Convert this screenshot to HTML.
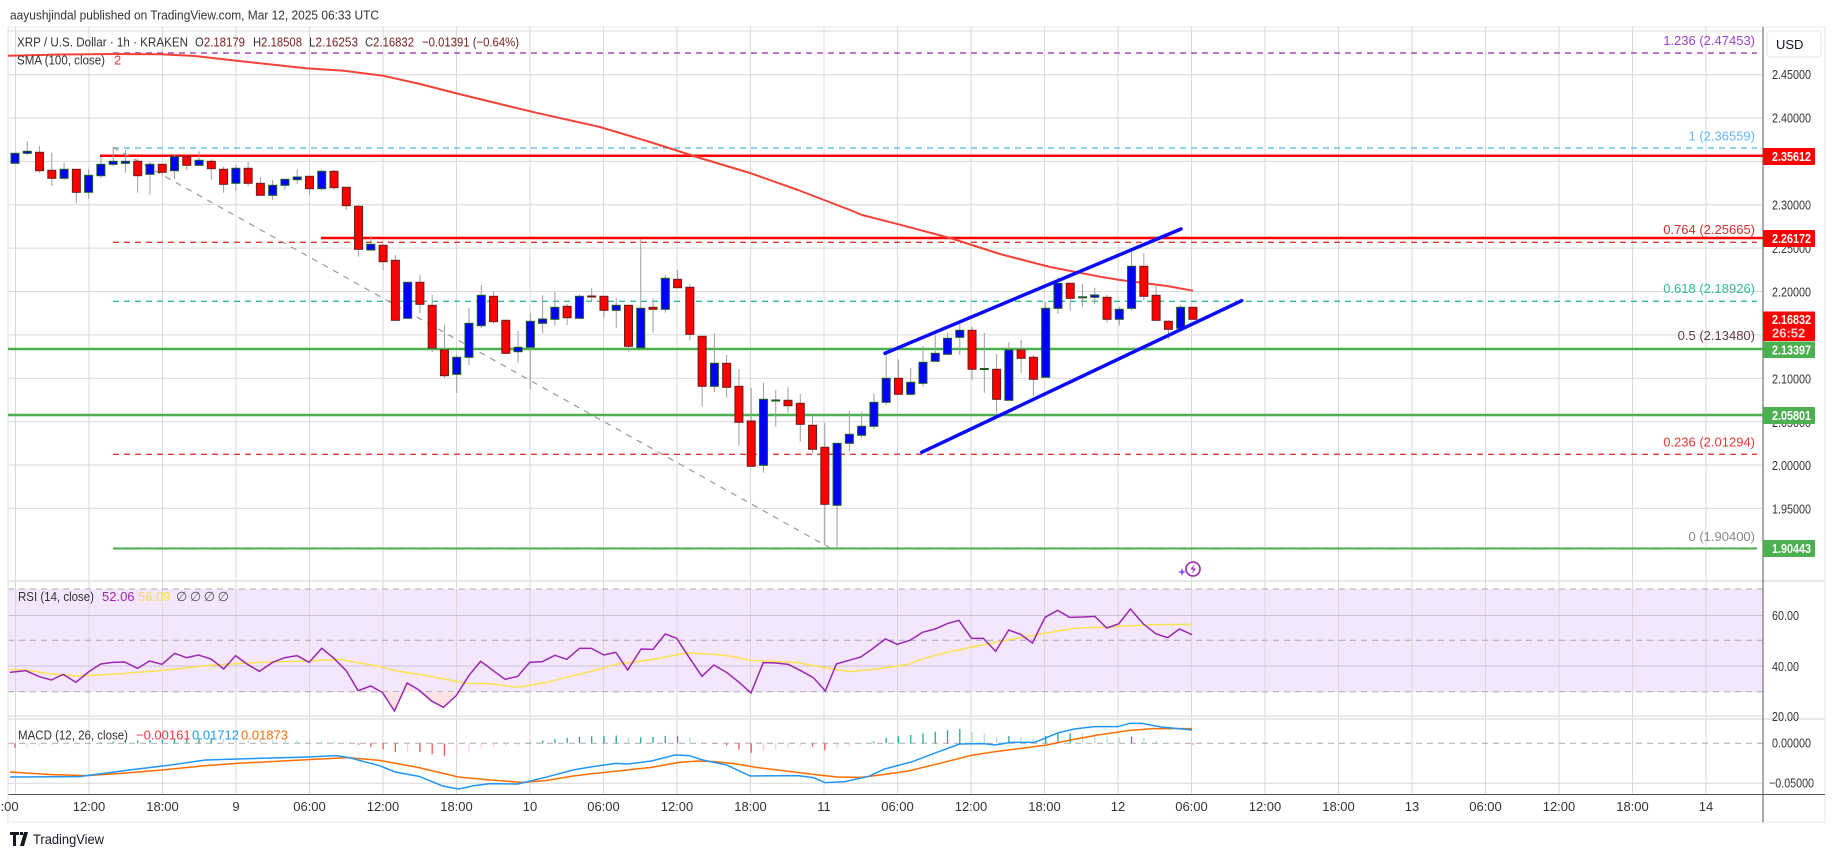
<!DOCTYPE html>
<html><head><meta charset="utf-8"><style>
html,body{margin:0;padding:0;background:#fff;}
svg{display:block;font-family:"Liberation Sans",sans-serif;}
</style></head><body>
<svg id="s" width="1835" height="857" viewBox="0 0 1835 857" xmlns="http://www.w3.org/2000/svg">
<rect x="0" y="0" width="1835" height="857" fill="#fff"/>
<g id="grid"></g>
<g id="draw"></g>
<text x="10" y="19.5" font-size="12.5" fill="#333" textLength="369" lengthAdjust="spacingAndGlyphs">aayushjindal published on TradingView.com, Mar 12, 2025 06:33 UTC</text>
<g font-size="13" fill="#333">
<text x="17" y="46.5" textLength="171" lengthAdjust="spacingAndGlyphs">XRP / U.S. Dollar · 1h · KRAKEN</text>
<text x="195" y="46.5" textLength="50" lengthAdjust="spacingAndGlyphs">O<tspan fill="#7a2020">2.18179</tspan></text>
<text x="253" y="46.5" textLength="49" lengthAdjust="spacingAndGlyphs">H<tspan fill="#7a2020">2.18508</tspan></text>
<text x="309" y="46.5" textLength="49" lengthAdjust="spacingAndGlyphs">L<tspan fill="#7a2020">2.16253</tspan></text>
<text x="365" y="46.5" textLength="49" lengthAdjust="spacingAndGlyphs">C<tspan fill="#7a2020">2.16832</tspan></text>
<text x="422" y="46.5" fill="#7a2020" textLength="97" lengthAdjust="spacingAndGlyphs">−0.01391 (−0.64%)</text>
</g>
<text x="17" y="64.5" font-size="13" fill="#333" textLength="88" lengthAdjust="spacingAndGlyphs">SMA (100, close)</text>
<text x="114" y="64.5" font-size="13" fill="#f23645">2</text>
<g font-size="13" text-anchor="end">
<text x="1755" y="45" fill="#a040d0">1.236 (2.47453)</text>
<text x="1755" y="140.5" fill="#64b5f6">1 (2.36559)</text>
<text x="1755" y="234" fill="#d32f2f">0.764 (2.25665)</text>
<text x="1755" y="293" fill="#2fbf8f">0.618 (2.18926)</text>
<text x="1755" y="340" fill="#5d3a4a">0.5 (2.13480)</text>
<text x="1755" y="446.5" fill="#e53935">0.236 (2.01294)</text>
<text x="1755" y="541" fill="#888">0 (1.90400)</text>
</g>
<g font-size="13" fill="#333">
<text x="1772" y="79" textLength="39" lengthAdjust="spacingAndGlyphs">2.45000</text>
<text x="1772" y="122.5" textLength="39" lengthAdjust="spacingAndGlyphs">2.40000</text>
<text x="1772" y="209.5" textLength="39" lengthAdjust="spacingAndGlyphs">2.30000</text>
<text x="1772" y="253" textLength="39" lengthAdjust="spacingAndGlyphs">2.25000</text>
<text x="1772" y="296.5" textLength="39" lengthAdjust="spacingAndGlyphs">2.20000</text>
<text x="1772" y="383.5" textLength="39" lengthAdjust="spacingAndGlyphs">2.10000</text>
<text x="1772" y="427" textLength="39" lengthAdjust="spacingAndGlyphs">2.05000</text>
<text x="1772" y="470" textLength="39" lengthAdjust="spacingAndGlyphs">2.00000</text>
<text x="1772" y="513.5" textLength="39" lengthAdjust="spacingAndGlyphs">1.95000</text>
<text x="1772" y="620" textLength="27" lengthAdjust="spacingAndGlyphs">60.00</text>
<text x="1772" y="671" textLength="27" lengthAdjust="spacingAndGlyphs">40.00</text>
<text x="1772" y="721" textLength="27" lengthAdjust="spacingAndGlyphs">20.00</text>
<text x="1772" y="747.5" textLength="39" lengthAdjust="spacingAndGlyphs">0.00000</text>
<text x="1769" y="787.5" textLength="45" lengthAdjust="spacingAndGlyphs">−0.05000</text>
</g>
<g id="tags"></g>
<rect x="1767" y="31" width="54" height="26" rx="3" fill="#fff" stroke="#e6e6e6"/>
<text x="1776" y="49" font-size="13" fill="#131722">USD</text>
<g font-size="13" fill="#333" text-anchor="middle" id="taxis"></g>
<text x="18" y="601" font-size="13" fill="#333" textLength="76" lengthAdjust="spacingAndGlyphs">RSI (14, close)</text>
<text x="102" y="601" font-size="13" fill="#9c27b0">52.06</text>
<text x="138" y="601" font-size="13" fill="#f5e050">56.09</text>
<text x="176" y="601" font-size="13" fill="#555" textLength="53" lengthAdjust="spacing">∅ ∅ ∅ ∅</text>
<text x="18" y="739.5" font-size="13" fill="#333" textLength="110" lengthAdjust="spacingAndGlyphs">MACD (12, 26, close)</text>
<text x="136" y="739.5" font-size="13" fill="#f23645">−0.00161</text>
<text x="192" y="739.5" font-size="13" fill="#2196f3">0.01712</text>
<text x="241" y="739.5" font-size="13" fill="#ff6d00">0.01873</text>
<g transform="translate(10,832)">
<path d="M0 0h9v3h-3v11h-3v-11h-3z M10 0h3v3h-3z M14 0h4l-4 14h-4z" fill="#131722"/>
</g>
<text x="33" y="844" font-size="14" fill="#131722" textLength="71" lengthAdjust="spacingAndGlyphs">TradingView</text>
</svg>
<script>
const NS="http://www.w3.org/2000/svg";
function el(p,t,a){const e=document.createElementNS(NS,t);for(const k in a)e.setAttribute(k,a[k]);p.appendChild(e);return e;}
const G=document.getElementById('grid'),D=document.getElementById('draw'),T=document.getElementById('tags'),TA=document.getElementById('taxis');
const L=8,R=1763;
el(G,'rect',{x:8,y:27,width:1817,height:795,fill:'#fff',stroke:'#e8e8e8'});
el(G,'rect',{x:L,y:589,width:R-L,height:103,fill:'#f3e6fd'});
for(let k=0;k<24;k++){const x=15.5+73.5*k;el(G,'line',{x1:x,y1:27,x2:x,y2:794,stroke:'#d9d9d9','stroke-width':1});}
const py=p=>118+(2.40-p)*867.5;
for(let p=1.95;p<=2.4501;p+=0.05){el(G,'line',{x1:L,y1:py(p),x2:R,y2:py(p),stroke:'#d9d9d9'});}
el(G,'line',{x1:L,y1:31,x2:R,y2:31,stroke:'#d9d9d9'});
[615.5,666].forEach(y=>el(G,'line',{x1:L,y1:y,x2:R,y2:y,stroke:'#cfc4d9'}));
[589,640.3,691.7].forEach(y=>el(G,'line',{x1:L,y1:y,x2:R,y2:y,stroke:'#aaa','stroke-dasharray':'6 5'}));
el(G,'line',{x1:L,y1:716,x2:R,y2:716,stroke:'#d9d9d9'});
el(G,'line',{x1:L,y1:743.3,x2:R,y2:743.3,stroke:'#aaa','stroke-dasharray':'6 5'});
el(G,'line',{x1:L,y1:783.3,x2:R,y2:783.3,stroke:'#d9d9d9'});
el(G,'line',{x1:L,y1:581,x2:1825,y2:581,stroke:'#e0e0e0','stroke-width':1.5});
el(G,'line',{x1:L,y1:719,x2:1825,y2:719,stroke:'#e0e0e0','stroke-width':1.5});
el(G,'line',{x1:R,y1:27,x2:R,y2:822,stroke:'#555'});
el(G,'line',{x1:L,y1:794.5,x2:1825,y2:794.5,stroke:'#555'});
el(G,'line',{x1:L,y1:27,x2:L,y2:822,stroke:'#e0e0e0'});

function hl(y,x1,c,w,dash){const a={x1:x1,y1:y,x2:(w>2?R:1757),y2:y,stroke:c,'stroke-width':w};if(dash)a['stroke-dasharray']=dash;el(D,'line',a);}
hl(53,113,'#9c27b0',1.3,'6 5');
hl(148,113,'#4fb3e8',1.3,'6 5');
hl(242.3,113,'#e53935',1.3,'6 5');
hl(301.3,113,'#2fbf8f',1.3,'6 5');
hl(454.3,113,'#e53935',1.3,'6 5');
hl(548,113,'#888',1.3,'6 5');
hl(155.7,100,'#ff0000',2.5);
hl(238,321,'#ff0000',2.5);
hl(349,L,'#4caf50',2.5);
hl(415,L,'#4caf50',2.5);
hl(548.5,113,'#4caf50',2);
el(D,'line',{x1:113,y1:147.3,x2:830,y2:548,stroke:'#999','stroke-width':1.2,'stroke-dasharray':'6 6'});
const sma=[[8,55.7],[60,54.5],[115,54],[161,54.3],[195,56],[230,60],[306,68.3],[344,70.7],[383,75.7],[420,84],[459,94],[500,104],[536,112.7],[600,127],[650,142],[700,158],[750,173],[798,190],[850,210],[862,215],[900,224.7],[950,238],[1000,254],[1050,267],[1100,276.7],[1120,280],[1167,286],[1193,290.7]];
el(D,'polyline',{points:sma.map(p=>p.join(',')).join(' '),fill:'none',stroke:'#f44336','stroke-width':2,'stroke-linejoin':'round'});
const C=`0 b 153.3 163.3 153.3 163.3
1 b 151.3 153.3 141 155
2 r 152.3 170.7 146 172.7
3 r 170.3 178.3 152.7 186
4 b 169.3 178.3 162.7 180
5 r 169.3 192.3 169.3 202.7
6 b 175.3 192.3 169.3 198.7
7 b 164.3 175.7 156.7 178.3
8 b 161.3 164.3 147.3 166
9 b 161.3 163.3 150 172.7
10 r 161.3 175.7 158.3 192.7
11 b 164.3 174.3 161.7 194.7
12 r 164.3 172.3 164 175
13 b 156.7 170.7 155 179
14 r 156.7 165.3 156.7 170
15 b 160.3 165.3 151.3 165.3
16 r 161.3 168.7 159.3 180
17 r 169.3 184.3 166.7 192.7
18 b 168.3 183.3 165 190.7
19 r 168.3 183.3 161.7 186
20 r 183.3 195.3 176.7 195.3
21 b 185.3 195.3 180 200
22 b 179.3 185.3 179.3 190
23 b 177 179.7 169.3 184
24 r 176.3 188.7 176.3 195
25 b 171.3 188.7 169.3 190.7
26 r 171.3 187.7 170 190
27 r 187.3 205.7 187.3 210
28 r 206.3 249.3 205 256.7
29 b 244.3 250 236 250.7
30 r 245.3 261.7 243.3 270
31 r 260.3 320.3 255 320.3
32 b 282.3 318.3 282.3 318.3
33 r 282.3 304.3 275 313.3
34 r 305.3 348 295 352
35 r 350 375.7 325 378
36 b 357.3 374.3 355 393
37 b 323.3 357.3 308 365
38 b 295.3 325.7 285 328
39 r 296.3 321.7 291 323.3
40 r 320.3 353.3 320.3 353.3
41 b 347.3 351.7 331 362.7
42 b 321.3 347.3 312.7 389
43 b 319 323.3 295.3 333.3
44 b 307.3 319.3 292 326
45 r 306.3 317.7 304 325
46 b 296.3 318.3 294.3 318.3
47 r 296 297 288 301.7
48 r 296.3 310.3 296.3 317.7
49 b 305.3 310.3 298 327.7
50 r 305.3 346.3 305.3 351.7
51 b 308.3 347.7 239.3 347.7
52 r 307.3 309.3 298.7 332.7
53 b 278.3 309.3 275 312.7
54 r 279.3 287.7 270 287.7
55 r 287.3 334.3 284 340.7
56 r 336.3 386.3 336.3 406.7
57 b 363.3 386.3 333.3 392.3
58 r 363.3 387.3 355 397.7
59 r 386.3 422.3 369 445.7
60 r 421 466.3 388 466.3
61 b 399.3 465.3 382.7 472.7
62 g 400 401 390 426.7
63 r 400.3 405.7 387 413.3
64 r 403.3 424.3 394 441.7
65 r 425.3 449.3 415.3 453.3
66 r 447.3 504.3 423 545
67 b 443.3 505.3 443.3 548
68 b 434.3 443.3 411 451.7
69 b 426.3 435.3 412 437.7
70 b 402.3 426.3 393.3 428.7
71 b 378.3 402.3 353 405
72 r 378.3 394.3 359.3 394.3
73 b 382.3 394.3 368 395.7
74 b 362.3 383.3 346 386.7
75 b 353.3 361.3 335 361.3
76 b 338.3 354.3 333 355
77 b 330.3 337.3 324 355
78 r 330.3 369.3 326.7 380
79 g 368.5 369.5 333 392.7
80 r 369.3 399.3 354 413.3
81 b 350 400.3 342 400.3
82 r 350 358.3 340 372.7
83 r 357.3 379.3 355 395.7
84 b 308.3 377.3 301.7 378.3
85 b 283.3 308.3 276.7 314
86 r 283.3 298.3 283.3 310.7
87 g 296.8 297.8 284 306.7
88 b 295 297.3 287.7 304
89 r 297.3 319.3 295 322.7
90 b 309.3 319.3 306.7 325.7
91 b 266.3 308.3 248.3 310.7
92 r 266.3 296.3 253.3 300.7
93 r 295.3 320.3 285 320.3
94 r 321.3 329.3 320 339.3
95 b 307.3 328.3 305 328.3
96 r 307.3 319.3 307.3 319.3`;
C.split('\n').forEach(l=>{const a=l.trim().split(/\s+/);const i=+a[0],c=a[1],t=+a[2],b=+a[3],wt=+a[4],wb=+a[5];
 const x=15+12.27*i;
 el(D,'line',{x1:x,y1:wt,x2:x,y2:wb,stroke:'#9e9e9e','stroke-width':1});
 const fill=c=='r'?'#ff0000':(c=='b'?'#0000ff':'#1b5e20'), st=c=='r'?'#6d1b1b':'#1b5e20';
 el(D,'rect',{x:x-4,y:t,width:8,height:Math.max(1,b-t),fill:fill,stroke:st,'stroke-width':1});
});
el(D,'line',{x1:885,y1:353.3,x2:1181,y2:229,stroke:'#0a0aff','stroke-width':3.5,'stroke-linecap':'round'});
el(D,'line',{x1:921.7,y1:452.3,x2:1241.7,y2:300.7,stroke:'#0a0aff','stroke-width':3.5,'stroke-linecap':'round'});
el(D,'circle',{cx:1193,cy:569,r:7,fill:'#fff',stroke:'#9c27b0','stroke-width':1.6});
el(D,'path',{d:'M1194.5 564l-4 5.5h3l-1.5 4.5 4-5.5h-3z',fill:'#9c27b0'});
el(D,'path',{d:'M1182 568l1 3 3 1-3 1-1 3-1-3-3-1 3-1z',fill:'#7c4dff'});

const s8=(a)=>a.filter(p=>p[0]<=1518).map(p=>[p[0]/2.53,575+p[1]/3]);
const s9=(a)=>a.map(p=>[600+p[0]/2.53,575+p[1]/3]);
const rsi=s8([[25,292],[65,287],[100,305],[130,315],[160,298],[192,322],[225,290],[255,267],[285,262],[315,261],[348,280],[378,258],[410,268],[442,235],[472,248],[502,240],[534,252],[566,282],[596,242],[626,268],[656,289],[690,262],[720,248],[752,242],[782,262],[814,220],[845,250],[876,287],[906,347],[938,333],[968,353],[998,408],[1030,324],[1060,345],[1092,378],[1122,397],[1154,362],[1186,302],[1216,259],[1248,287],[1278,313],[1310,304],[1340,262],[1372,260],[1404,241],[1434,253],[1466,220],[1496,220]]).concat(s9([[10,240],[40,232],[70,285],[104,222],[134,223],[165,177],[194,190],[226,248],[258,304],[288,270],[320,292],[352,322],[382,354],[413,263],[445,264],[476,268],[508,287],[540,308],[570,348],[598,267],[630,256],[660,246],[692,219],[722,192],[752,208],[784,196],[816,172],[848,162],[878,146],[908,136],[940,190],[970,190],[1001,229],[1034,165],[1064,178],[1094,204],[1126,127],[1158,106],[1188,127],[1220,126],[1252,124],[1282,159],[1312,147],[1342,102],[1374,146],[1406,176],[1436,188],[1466,162],[1498,179]]));
const rma=s8([[25,283],[65,285],[130,297],[190,303],[300,297],[420,285],[540,270],[660,262],[780,258],[860,253],[960,274],[1000,287],[1080,302],[1180,325],[1240,326],[1310,337],[1380,323],[1440,305],[1500,288]]).concat(s9([[40,268],[130,254],[220,234],[290,238],[340,245],[380,256],[500,263],[560,276],[630,290],[700,282],[780,268],[820,250],[900,226],[1000,202],[1100,180],[1200,160],[1300,155],[1400,149],[1498,148]]));
el(D,'polygon',{points:'383,692 395,711 407,686 419,692 431,703 443,707 455,695 460,692',fill:'#fde3e6'});
el(D,'polyline',{points:rma.map(p=>p.join(',')).join(' '),fill:'none',stroke:'#fbe34f','stroke-width':1.5});
el(D,'polyline',{points:rsi.map(p=>p.join(',')).join(' '),fill:'none',stroke:'#9c27b0','stroke-width':1.5});
const mb=s8([[25,606],[200,605],[320,586],[420,572],[520,555],[600,552],[780,546],[850,542],[880,547],[960,572],[1000,591],[1060,604],[1120,633],[1160,642],[1200,632],[1240,626],[1310,627],[1380,607],[1450,585],[1500,575]]).concat(s9([[40,565],[70,567],[130,558],[190,540],[226,542],[260,555],[320,570],[380,603],[500,602],[540,608],[570,623],[620,620],[680,604],[720,582],[790,560],[850,533],[910,507],[970,506],[1000,510],[1040,502],[1100,502],[1160,473],[1200,462],[1250,455],[1310,455],[1340,445],[1370,445],[1420,456],[1498,465]]));
const mo=s8([[25,591],[130,599],[220,602],[330,593],[420,584],[520,572],[600,565],[780,554],[880,548],[960,556],[1060,578],[1160,606],[1240,615],[1320,622],[1380,617],[1450,603],[1500,596]]).concat(s9([[60,586],[130,577],[200,562],[250,558],[290,560],[340,566],[400,578],[470,588],[540,598],[600,606],[660,607],[720,598],[780,588],[850,568],[940,541],[1000,530],[1080,518],[1130,510],[1190,495],[1260,480],[1340,466],[1400,461],[1498,461]]));
function interp(a,x){for(let i=1;i<a.length;i++){if(a[i][0]>=x){const p=a[i-1],q=a[i];return p[1]+(q[1]-p[1])*(x-p[0])/(q[0]-p[0]);}}return a[a.length-1][1];}
let prev=0;
for(let i=0;i<=96;i++){const x=15+12.27*i;if(x<mb[0][0])continue;const h=(interp(mo,x)-interp(mb,x));
 const col=h>=0?(h>=prev?'#26a69a':'#b2dfdb'):(h<=prev?'#ff5252':'#ffcdd2');prev=h;
 el(D,'line',{x1:x,y1:743.3,x2:x,y2:743.3-h,stroke:col,'stroke-width':1.3});}
el(D,'polyline',{points:mo.map(p=>p.join(',')).join(' '),fill:'none',stroke:'#ff6d00','stroke-width':1.5});
el(D,'polyline',{points:mb.map(p=>p.join(',')).join(' '),fill:'none',stroke:'#2196f3','stroke-width':1.5});

function tag(y1,y2,c,txt,txt2){el(T,'rect',{x:1763,y:y1,width:52,height:y2-y1,fill:c,rx:1});
 const t=el(T,'text',{x:1772,y:txt2?y1+12.5:(y1+y2)/2+4.5,'font-size':13,'font-weight':'bold',fill:'#fff',textLength:39,lengthAdjust:'spacingAndGlyphs'});t.textContent=txt;
 if(txt2){const u=el(T,'text',{x:1772,y:y1+26,'font-size':13,'font-weight':'bold',fill:'#ffd0d0'});u.textContent=txt2;}}
tag(148,165,'#ff0000','2.35612');
tag(230,247,'#ff0000','2.26172');
tag(311.5,341,'#ff0000','2.16832','26:52');
tag(341.5,358,'#4caf50','2.13397');
tag(407,424,'#4caf50','2.05801');
tag(540,557,'#4caf50','1.90443');
const labs=['6:00','12:00','18:00','9','06:00','12:00','18:00','10','06:00','12:00','18:00','11','06:00','12:00','18:00','12','06:00','12:00','18:00','13','06:00','12:00','18:00','14'];
labs.forEach((s,k)=>{const x=15.5+73.5*k;const t=el(TA,'text',{x:k==0?6:x,y:811});t.textContent=s;});
</script>
</body></html>
